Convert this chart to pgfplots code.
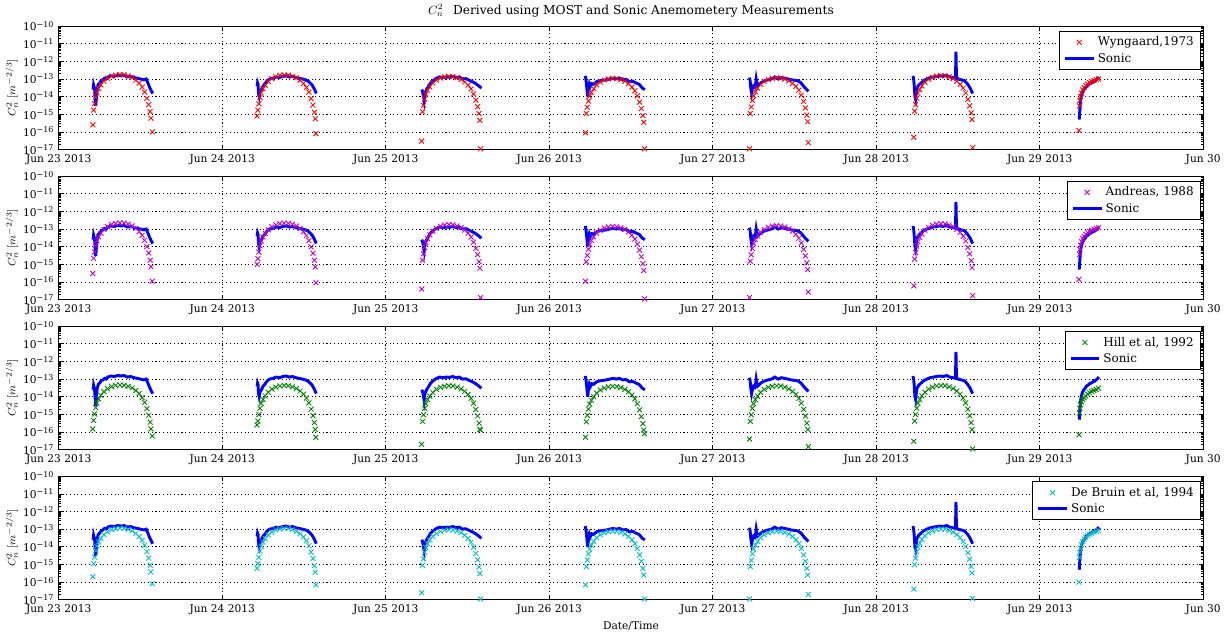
\documentclass[border=0pt]{standalone}
\usepackage{fontspec}
\setmainfont{DejaVu Serif}
\usepackage{pgfplots}
\pgfplotsset{compat=1.18}
\usepackage{pgfplotstable}
\usepgfplotslibrary{groupplots}

\definecolor{mred}{rgb}{1,0,0}
\definecolor{mmag}{rgb}{0.75,0,0.75}
\definecolor{mgreen}{rgb}{0,0.5,0}
\definecolor{mcyan}{rgb}{0,0.75,0.75}
\definecolor{mblue}{rgb}{0,0,1}

% MOST estimates, one column per model (values in m^-2/3)
\pgfplotstableread{
t W A H D
0.208 0.0025e-13 0.003e-13 0.0015e-13 0.002e-13
0.213 0.017e-13 0.022e-13 0.0045e-13 0.011e-13
0.219 0.040e-13 0.051e-13 0.0105e-13 0.026e-13
0.226 0.092e-13 0.116e-13 0.024e-13 0.06e-13
0.233 0.17e-13 0.22e-13 0.045e-13 0.11e-13
0.244 0.29e-13 0.36e-13 0.075e-13 0.19e-13
0.258 0.46e-13 0.58e-13 0.12e-13 0.3e-13
0.276 0.75e-13 0.94e-13 0.195e-13 0.49e-13
0.298 1.09e-13 1.38e-13 0.285e-13 0.71e-13
0.323 1.44e-13 1.81e-13 0.375e-13 0.94e-13
0.348 1.67e-13 2.1e-13 0.435e-13 1.09e-13
0.374 1.78e-13 2.25e-13 0.465e-13 1.16e-13
0.399 1.73e-13 2.18e-13 0.45e-13 1.13e-13
0.424 1.5e-13 1.89e-13 0.39e-13 0.98e-13
0.449 1.21e-13 1.52e-13 0.315e-13 0.79e-13
0.471 0.86e-13 1.09e-13 0.225e-13 0.56e-13
0.492 0.58e-13 0.73e-13 0.15e-13 0.38e-13
0.510 0.35e-13 0.44e-13 0.09e-13 0.23e-13
0.525 0.18e-13 0.23e-13 0.048e-13 0.12e-13
0.539 0.08e-13 0.1e-13 0.021e-13 0.053e-13
0.550 0.035e-13 0.044e-13 0.009e-13 0.023e-13
0.559 0.014e-13 0.017e-13 0.0036e-13 0.009e-13
0.564 0.006e-13 0.0073e-13 0.0015e-13 0.0038e-13
0.572 0.001e-13 0.0011e-13 0.0006e-13 0.0008e-13
1.213 0.008e-13 0.01e-13 0.0025e-13 0.006e-13
1.218 0.017e-13 0.021e-13 0.0042e-13 0.011e-13
1.224 0.039e-13 0.049e-13 0.0098e-13 0.025e-13
1.231 0.088e-13 0.112e-13 0.022e-13 0.058e-13
1.238 0.165e-13 0.21e-13 0.042e-13 0.108e-13
1.249 0.28e-13 0.35e-13 0.07e-13 0.18e-13
1.263 0.44e-13 0.56e-13 0.112e-13 0.29e-13
1.281 0.72e-13 0.91e-13 0.18e-13 0.47e-13
1.303 1.05e-13 1.33e-13 0.27e-13 0.68e-13
1.328 1.38e-13 1.75e-13 0.35e-13 0.9e-13
1.353 1.6e-13 2.03e-13 0.41e-13 1.04e-13
1.379 1.7e-13 2.17e-13 0.43e-13 1.12e-13
1.404 1.65e-13 2.1e-13 0.42e-13 1.08e-13
1.429 1.43e-13 1.82e-13 0.36e-13 0.94e-13
1.454 1.16e-13 1.47e-13 0.29e-13 0.76e-13
1.476 0.83e-13 1.05e-13 0.21e-13 0.54e-13
1.497 0.55e-13 0.7e-13 0.14e-13 0.36e-13
1.515 0.33e-13 0.42e-13 0.084e-13 0.22e-13
1.530 0.18e-13 0.22e-13 0.045e-13 0.115e-13
1.544 0.077e-13 0.098e-13 0.02e-13 0.05e-13
1.555 0.033e-13 0.042e-13 0.0084e-13 0.022e-13
1.564 0.013e-13 0.017e-13 0.0034e-13 0.0086e-13
1.569 0.0055e-13 0.007e-13 0.0014e-13 0.0036e-13
1.573 0.0008e-13 0.0009e-13 0.0005e-13 0.0007e-13
2.220 0.0003e-13 0.0004e-13 0.0002e-13 0.00025e-13
2.225 0.014e-13 0.017e-13 0.004e-13 0.009e-13
2.231 0.032e-13 0.040e-13 0.0095e-13 0.021e-13
2.238 0.072e-13 0.092e-13 0.022e-13 0.048e-13
2.245 0.135e-13 0.17e-13 0.04e-13 0.09e-13
2.256 0.23e-13 0.29e-13 0.068e-13 0.15e-13
2.270 0.36e-13 0.46e-13 0.108e-13 0.24e-13
2.288 0.59e-13 0.75e-13 0.175e-13 0.39e-13
2.310 0.86e-13 1.09e-13 0.26e-13 0.57e-13
2.335 1.13e-13 1.44e-13 0.34e-13 0.75e-13
2.360 1.31e-13 1.67e-13 0.39e-13 0.87e-13
2.386 1.4e-13 1.78e-13 0.42e-13 0.93e-13
2.411 1.35e-13 1.73e-13 0.405e-13 0.9e-13
2.436 1.17e-13 1.5e-13 0.35e-13 0.78e-13
2.461 0.95e-13 1.21e-13 0.28e-13 0.63e-13
2.483 0.68e-13 0.86e-13 0.2e-13 0.45e-13
2.504 0.45e-13 0.58e-13 0.135e-13 0.3e-13
2.522 0.27e-13 0.35e-13 0.081e-13 0.18e-13
2.537 0.14e-13 0.18e-13 0.043e-13 0.096e-13
2.551 0.063e-13 0.08e-13 0.019e-13 0.042e-13
2.562 0.027e-13 0.035e-13 0.0081e-13 0.018e-13
2.571 0.011e-13 0.014e-13 0.0032e-13 0.0072e-13
2.576 0.0045e-13 0.006e-13 0.0014e-13 0.003e-13
2.580 0.00011e-13 0.00013e-13 0.0013e-13 0.00011e-13
3.222 0.0009e-13 0.0011e-13 0.0005e-13 0.0007e-13
3.227 0.011e-13 0.014e-13 0.0038e-13 0.0075e-13
3.233 0.025e-13 0.032e-13 0.0088e-13 0.0175e-13
3.240 0.056e-13 0.072e-13 0.02e-13 0.04e-13
3.247 0.105e-13 0.135e-13 0.038e-13 0.075e-13
3.258 0.175e-13 0.23e-13 0.063e-13 0.125e-13
3.272 0.28e-13 0.36e-13 0.1e-13 0.2e-13
3.290 0.46e-13 0.59e-13 0.16e-13 0.33e-13
3.312 0.67e-13 0.86e-13 0.24e-13 0.48e-13
3.337 0.88e-13 1.13e-13 0.31e-13 0.63e-13
3.362 1.02e-13 1.31e-13 0.36e-13 0.73e-13
3.388 1.09e-13 1.4e-13 0.39e-13 0.78e-13
3.413 1.05e-13 1.35e-13 0.38e-13 0.75e-13
3.438 0.91e-13 1.17e-13 0.33e-13 0.65e-13
3.463 0.74e-13 0.95e-13 0.26e-13 0.53e-13
3.485 0.53e-13 0.68e-13 0.19e-13 0.38e-13
3.506 0.35e-13 0.45e-13 0.125e-13 0.25e-13
3.524 0.21e-13 0.27e-13 0.075e-13 0.15e-13
3.539 0.11e-13 0.14e-13 0.04e-13 0.08e-13
3.553 0.049e-13 0.063e-13 0.018e-13 0.035e-13
3.564 0.021e-13 0.027e-13 0.0075e-13 0.015e-13
3.573 0.0084e-13 0.011e-13 0.003e-13 0.006e-13
3.578 0.0035e-13 0.0045e-13 0.0013e-13 0.0025e-13
3.583 0.00011e-13 0.00011e-13 0.0008e-13 0.00011e-13
4.225 0.00011e-13 0.00013e-13 0.0004e-13 0.00011e-13
4.230 0.011e-13 0.015e-13 0.004e-13 0.0075e-13
4.236 0.026e-13 0.035e-13 0.0095e-13 0.0175e-13
4.243 0.06e-13 0.08e-13 0.022e-13 0.04e-13
4.250 0.11e-13 0.15e-13 0.04e-13 0.075e-13
4.261 0.19e-13 0.25e-13 0.068e-13 0.125e-13
4.275 0.3e-13 0.4e-13 0.108e-13 0.2e-13
4.293 0.49e-13 0.65e-13 0.175e-13 0.33e-13
4.315 0.71e-13 0.95e-13 0.26e-13 0.48e-13
4.340 0.94e-13 1.25e-13 0.34e-13 0.63e-13
4.365 1.09e-13 1.45e-13 0.39e-13 0.73e-13
4.391 1.16e-13 1.55e-13 0.42e-13 0.78e-13
4.416 1.13e-13 1.5e-13 0.405e-13 0.75e-13
4.441 0.98e-13 1.3e-13 0.35e-13 0.65e-13
4.466 0.79e-13 1.05e-13 0.28e-13 0.53e-13
4.488 0.56e-13 0.75e-13 0.2e-13 0.38e-13
4.509 0.38e-13 0.5e-13 0.135e-13 0.25e-13
4.527 0.23e-13 0.3e-13 0.081e-13 0.15e-13
4.542 0.12e-13 0.16e-13 0.043e-13 0.08e-13
4.556 0.053e-13 0.07e-13 0.019e-13 0.035e-13
4.567 0.023e-13 0.03e-13 0.0081e-13 0.015e-13
4.576 0.009e-13 0.012e-13 0.0032e-13 0.006e-13
4.581 0.0038e-13 0.005e-13 0.0014e-13 0.0025e-13
4.585 0.00025e-13 0.00027e-13 0.00015e-13 0.0002e-13
5.230 0.0005e-13 0.0006e-13 0.0003e-13 0.0004e-13
5.235 0.015e-13 0.0195e-13 0.0042e-13 0.0098e-13
5.241 0.035e-13 0.046e-13 0.0098e-13 0.023e-13
5.248 0.08e-13 0.104e-13 0.022e-13 0.052e-13
5.255 0.15e-13 0.195e-13 0.042e-13 0.098e-13
5.266 0.25e-13 0.33e-13 0.07e-13 0.16e-13
5.280 0.4e-13 0.52e-13 0.112e-13 0.26e-13
5.298 0.65e-13 0.85e-13 0.18e-13 0.42e-13
5.320 0.95e-13 1.24e-13 0.27e-13 0.62e-13
5.345 1.25e-13 1.63e-13 0.35e-13 0.81e-13
5.370 1.45e-13 1.89e-13 0.41e-13 0.94e-13
5.396 1.55e-13 2.02e-13 0.43e-13 1.0e-13
5.421 1.5e-13 1.95e-13 0.42e-13 0.98e-13
5.446 1.3e-13 1.69e-13 0.36e-13 0.85e-13
5.471 1.05e-13 1.37e-13 0.29e-13 0.68e-13
5.493 0.75e-13 0.98e-13 0.21e-13 0.49e-13
5.514 0.5e-13 0.65e-13 0.14e-13 0.33e-13
5.532 0.3e-13 0.39e-13 0.084e-13 0.2e-13
5.547 0.16e-13 0.21e-13 0.045e-13 0.104e-13
5.561 0.07e-13 0.091e-13 0.02e-13 0.046e-13
5.572 0.03e-13 0.039e-13 0.0084e-13 0.02e-13
5.581 0.012e-13 0.016e-13 0.0034e-13 0.0078e-13
5.586 0.005e-13 0.0065e-13 0.0014e-13 0.0033e-13
5.590 0.00013e-13 0.00017e-13 0.00011e-13 0.00012e-13
6.240 0.0012e-13 0.0014e-13 0.0007e-13 0.001e-13
6.243 0.03e-13 0.036e-13 0.012e-13 0.025e-13
6.246 0.06e-13 0.07e-13 0.022e-13 0.05e-13
6.250 0.1e-13 0.12e-13 0.035e-13 0.08e-13
6.256 0.16e-13 0.19e-13 0.05e-13 0.13e-13
6.263 0.24e-13 0.29e-13 0.07e-13 0.2e-13
6.272 0.32e-13 0.38e-13 0.09e-13 0.27e-13
6.282 0.42e-13 0.5e-13 0.11e-13 0.35e-13
6.293 0.52e-13 0.62e-13 0.14e-13 0.43e-13
6.305 0.62e-13 0.74e-13 0.17e-13 0.52e-13
6.318 0.72e-13 0.86e-13 0.2e-13 0.6e-13
6.332 0.82e-13 0.98e-13 0.23e-13 0.68e-13
6.346 0.92e-13 1.1e-13 0.26e-13 0.76e-13
6.360 1.0e-13 1.2e-13 0.3e-13 0.85e-13
}\models

% sonic anemometer estimate (nan breaks the line between days)
\pgfplotstableread{
t S
0.210 0.25e-13
0.213 0.45e-13
0.216 0.35e-13
0.219 0.3e-13
0.222 0.1e-13
0.226 0.03e-13
0.230 0.08e-13
0.235 0.3e-13
0.242 0.5e-13
0.250 0.6e-13
0.260 0.8e-13
0.270 0.9e-13
0.280 1.1e-13
0.290 1.0e-13
0.300 1.3e-13
0.320 1.5e-13
0.340 1.4e-13
0.360 1.6e-13
0.380 1.5e-13
0.400 1.6e-13
0.420 1.3e-13
0.440 1.4e-13
0.460 1.2e-13
0.480 1.1e-13
0.500 1.0e-13
0.520 0.9e-13
0.535 1.0e-13
0.545 0.6e-13
0.555 0.35e-13
0.565 0.22e-13
0.575 0.15e-13
0.6 nan
1.213 0.4e-13
1.216 0.6e-13
1.219 0.5e-13
1.222 0.15e-13
1.226 0.1e-13
1.232 0.2e-13
1.240 0.25e-13
1.250 0.4e-13
1.260 0.5e-13
1.275 0.8e-13
1.290 1.0e-13
1.310 1.1e-13
1.330 1.3e-13
1.350 1.2e-13
1.370 1.4e-13
1.390 1.5e-13
1.410 1.3e-13
1.430 1.4e-13
1.450 1.2e-13
1.470 1.1e-13
1.490 1.0e-13
1.510 0.9e-13
1.530 0.7e-13
1.550 0.45e-13
1.565 0.25e-13
1.575 0.15e-13
1.6 nan
2.220 0.25e-13
2.225 0.2e-13
2.230 0.12e-13
2.235 0.06e-13
2.240 0.15e-13
2.250 0.25e-13
2.260 0.35e-13
2.275 0.6e-13
2.290 0.8e-13
2.310 1.1e-13
2.330 1.3e-13
2.350 1.2e-13
2.370 1.3e-13
2.390 1.25e-13
2.410 1.4e-13
2.430 1.2e-13
2.450 1.3e-13
2.470 1.0e-13
2.490 1.05e-13
2.510 0.85e-13
2.530 0.7e-13
2.550 0.55e-13
2.570 0.4e-13
2.585 0.3e-13
2.6 nan
3.220 1.5e-13
3.224 1.0e-13
3.228 0.5e-13
3.232 0.2e-13
3.236 0.1e-13
3.240 0.3e-13
3.245 0.5e-13
3.250 0.35e-13
3.260 0.55e-13
3.270 0.5e-13
3.290 0.7e-13
3.310 0.8e-13
3.330 0.85e-13
3.350 0.9e-13
3.370 1.0e-13
3.390 1.1e-13
3.410 1.0e-13
3.430 1.1e-13
3.450 0.9e-13
3.470 0.95e-13
3.490 0.7e-13
3.510 0.75e-13
3.530 0.6e-13
3.550 0.5e-13
3.570 0.3e-13
3.585 0.25e-13
3.6 nan
4.225 1.2e-13
4.229 0.8e-13
4.233 0.3e-13
4.238 0.15e-13
4.243 0.25e-13
4.250 0.4e-13
4.257 0.35e-13
4.262 0.5e-13
4.266 1.0e-13
4.270 0.6e-13
4.275 0.4e-13
4.285 0.5e-13
4.300 0.65e-13
4.320 0.8e-13
4.340 0.9e-13
4.360 1.0e-13
4.380 1.3e-13
4.400 1.0e-13
4.420 1.2e-13
4.440 1.1e-13
4.460 1.0e-13
4.480 0.9e-13
4.500 0.85e-13
4.520 0.8e-13
4.540 0.6e-13
4.560 0.35e-13
4.575 0.25e-13
4.585 0.2e-13
4.6 nan
5.225 1.5e-13
5.229 1.0e-13
5.233 0.4e-13
5.237 0.1e-13
5.241 0.07e-13
5.245 0.15e-13
5.250 0.3e-13
5.260 0.45e-13
5.275 0.6e-13
5.290 0.8e-13
5.310 1.0e-13
5.330 1.2e-13
5.350 1.3e-13
5.370 1.4e-13
5.390 1.5e-13
5.410 1.4e-13
5.430 1.6e-13
5.450 1.3e-13
5.470 1.2e-13
5.485 1.1e-13
5.488 35e-13
5.491 1.2e-13
5.500 1.0e-13
5.520 0.9e-13
5.540 0.8e-13
5.560 0.5e-13
5.575 0.3e-13
5.590 0.15e-13
5.6 nan
6.242 0.005e-13
6.246 0.02e-13
6.250 0.06e-13
6.256 0.12e-13
6.262 0.18e-13
6.270 0.25e-13
6.278 0.3e-13
6.286 0.4e-13
6.295 0.45e-13
6.305 0.55e-13
6.315 0.6e-13
6.325 0.7e-13
6.335 0.75e-13
6.345 0.9e-13
6.355 1.1e-13
6.362 1.3e-13
}\sonic

\pgfplotsset{
  panel/.style={
    width=861.75pt, height=93pt, scale only axis,
    xmin=0, xmax=7, ymode=log, log basis y=10,
    ymin=1e-17, ymax=1e-10,
    xtick={0,1,2,3,4,5,6,7},
    xticklabels={Jun 23 2013,Jun 24 2013,Jun 25 2013,Jun 26 2013,Jun 27 2013,Jun 28 2013,Jun 29 2013,Jun 30},
    ytick={1e-17,1e-16,1e-15,1e-14,1e-13,1e-12,1e-11,1e-10},
    minor ytick={2e-17,3e-17,4e-17,5e-17,6e-17,7e-17,8e-17,9e-17,
      2e-16,3e-16,4e-16,5e-16,6e-16,7e-16,8e-16,9e-16,
      2e-15,3e-15,4e-15,5e-15,6e-15,7e-15,8e-15,9e-15,
      2e-14,3e-14,4e-14,5e-14,6e-14,7e-14,8e-14,9e-14,
      2e-13,3e-13,4e-13,5e-13,6e-13,7e-13,8e-13,9e-13,
      2e-12,3e-12,4e-12,5e-12,6e-12,7e-12,8e-12,9e-12,
      2e-11,3e-11,4e-11,5e-11,6e-11,7e-11,8e-11,9e-11},
    yticklabel={10\textsuperscript{−\pgfmathtruncatemacro\e{round(abs(\tick))}\e}},
    grid=major,
    major grid style={black, line width=0.5pt, dash pattern=on 0.8pt off 2pt},
    tick align=inside, tick pos=both,
    xticklabel pos=lower, yticklabel pos=lower,
    major tick length=3.5pt, minor tick length=2pt,
    tick style={black, line width=0.5pt},
    axis line style={line width=0.8pt},
    ticklabel style={font=\fontsize{8}{9.5}\selectfont},
    xticklabel style={yshift=-0.5pt},
    ylabel={$C_n^2\ [m^{-2/3}]$},
    ylabel style={font=\fontsize{8.5}{10}\selectfont, xshift=0pt, yshift=-3pt},
    unbounded coords=jump,
    legend cell align=left,
    legend image code/.code={\draw[mark repeat=2,mark phase=2] plot coordinates {(0cm,0cm)(0.38cm,0cm)(0.76cm,0cm)};},
    legend style={at={(0.998,0.96)}, anchor=north east, draw=black, line width=0.8pt,
      font=\fontsize{9}{11}\selectfont, inner xsep=3pt, inner ysep=2pt},
  },
  est/.style={only marks, mark=x, mark size=2.6pt, line width=0.65pt, color=#1},
  son/.style={mblue, line width=2.2pt, mark=none},
}

\begin{document}
\begin{tikzpicture}
\begin{groupplot}[group style={group size=1 by 4, vertical sep=20pt}, panel]
\nextgroupplot[title={$C_n^2$\hspace{7pt}Derived using MOST and Sonic Anemometery Measurements},
  title style={font=\fontsize{9.2}{11}\selectfont, yshift=-3pt}]
\addplot[est=mred] table[x=t, y=W] {\models};
\addlegendentry{Wyngaard,1973}
\addplot[son] table[x=t, y=S] {\sonic};
\addlegendentry{Sonic}

\nextgroupplot
\addplot[est=mmag] table[x=t, y=A] {\models};
\addlegendentry{Andreas, 1988}
\addplot[son] table[x=t, y=S] {\sonic};
\addlegendentry{Sonic}

\nextgroupplot
\addplot[est=mgreen] table[x=t, y=H] {\models};
\addlegendentry{Hill et al, 1992}
\addplot[son] table[x=t, y=S] {\sonic};
\addlegendentry{Sonic}

\nextgroupplot[xlabel={Date/Time}, xlabel style={font=\fontsize{8}{10}\selectfont, yshift=2pt}]
\addplot[est=mcyan] table[x=t, y=D] {\models};
\addlegendentry{De Bruin et al, 1994}
\addplot[son] table[x=t, y=S] {\sonic};
\addlegendentry{Sonic}
\end{groupplot}
\path ([xshift=-44.25pt]group c1r4.south west) ([xshift=12.75pt]group c1r4.south east);
\end{tikzpicture}
\end{document}
